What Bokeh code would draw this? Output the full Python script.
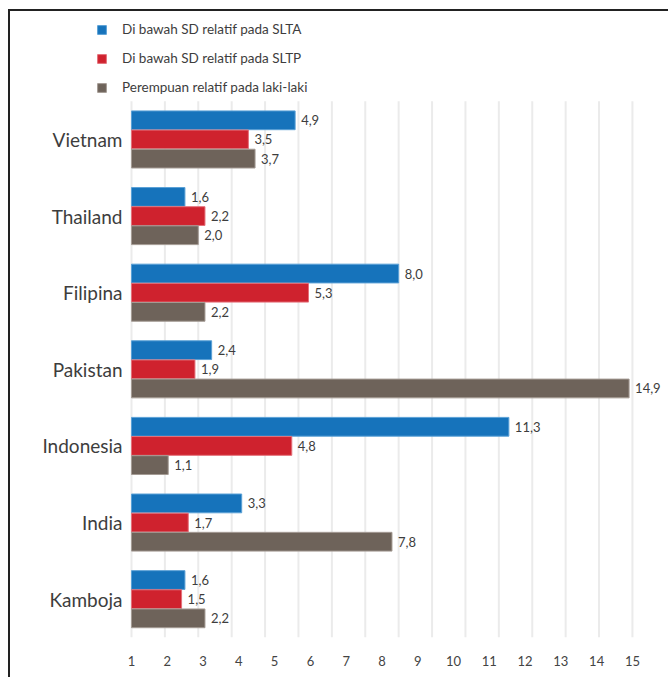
from bokeh.plotting import figure
from bokeh.models import FixedTicker, ColumnDataSource, Legend, LegendItem
from bokeh.transform import dodge
from bokeh.core.properties import value
from bokeh.embed import file_html
from bokeh.resources import INLINE

countries = ["Vietnam", "Thailand", "Filipina", "Pakistan", "Indonesia", "India", "Kamboja"]
slta = [4.9, 1.6, 8.0, 2.4, 11.3, 3.3, 1.6]
sltp = [3.5, 2.2, 5.3, 1.9, 4.8, 1.7, 1.5]
perempuan = [3.7, 2.0, 2.2, 14.9, 1.1, 7.8, 2.2]
series_names = ["Di bawah SD relatif pada SLTA", "Di bawah SD relatif pada SLTP",
                "Perempuan relatif pada laki-laki"]
tick_labels = [str(i) for i in range(1, 16)]
grid_values = list(range(0, 16))

colors = ["#1673bb", "#cf222e", "#6e635a"]
edges = ["#5aa0d6", "#e4707a", "#a49b94"]
FONT = "Lato"
TXT = "#3d3d3d"

def fmt(v):
    return f"{v:.1f}".replace(".", ",")

n = len(countries)
yi = [n - 1 - i for i in range(n)]
src = ColumnDataSource(dict(
    c=countries, yi=yi, zero=[0] * n, a=slta, b=sltp, p=perempuan,
    at=[fmt(v) for v in slta], bt=[fmt(v) for v in sltp], pt=[fmt(v) for v in perempuan],
))

p = figure(
    width=660, height=668,
    x_range=(-3.623, 16.14), y_range=(-0.5, 7.67),
    output_backend="svg", toolbar_location=None,
    min_border_left=0, min_border_right=0, min_border_top=0, min_border_bottom=42,
    margin=(9, 0, 0, 8),
    styles={"border-top": "2px solid #222", "border-left": "2px solid #222"},
)
p.outline_line_color = None
p.background_fill_color = "white"
p.yaxis.visible = False
p.xgrid.grid_line_color = None
p.ygrid.grid_line_color = None

# vertical grid lines over the category area only
p.segment(x0=grid_values, x1=grid_values, y0=[-0.5] * len(grid_values),
          y1=[n - 0.5] * len(grid_values), line_color="#ebebeb", line_width=2)

offs = [0.25, 0.0, -0.25]
cols = ["a", "b", "p"]
tcols = ["at", "bt", "pt"]
renderers = []
for col, tcol, off, fc, ec in zip(cols, tcols, offs, colors, edges):
    r = p.hbar(y=dodge("yi", off), left=0, right=col, height=0.245,
               source=src, fill_color=fc, line_color=ec, line_width=1)
    renderers.append(r)
    p.text(x=col, y=dodge("yi", off), text=tcol, source=src,
           x_offset=6, text_font=value(FONT), text_font_size="13px",
           text_color=TXT, text_baseline="middle", text_align="left")

# country labels
p.text(x="zero", y="yi", text="c", source=src, x_offset=-9,
       text_font=value(FONT), text_font_size="19px", text_color=TXT,
       text_baseline="middle", text_align="right")

legend = Legend(items=[LegendItem(label=nm, renderers=[r]) for nm, r in zip(series_names, renderers)],
                location=(86, 540), orientation="vertical",
                glyph_width=11, glyph_height=11, label_height=20, spacing=9,
                label_standoff=15, padding=0, margin=0,
                border_line_color=None, background_fill_alpha=0,
                label_text_font=FONT, label_text_font_size="13.5px", label_text_color=TXT)
p.add_layout(legend, "center")

# x axis
p.xaxis.ticker = FixedTicker(ticks=[k * 15 / 14 for k in range(15)])
p.xaxis.major_label_overrides = {k * 15 / 14: tick_labels[k] for k in range(15)}
p.xaxis.axis_line_color = None
p.xaxis.major_tick_line_color = None
p.xaxis.minor_tick_line_color = None
p.xaxis.major_label_standoff = 12
p.xaxis.major_label_text_font = FONT
p.xaxis.major_label_text_font_size = "13px"
p.xaxis.major_label_text_color = "#444444"

open("out.html", "w").write(file_html(p, INLINE))
